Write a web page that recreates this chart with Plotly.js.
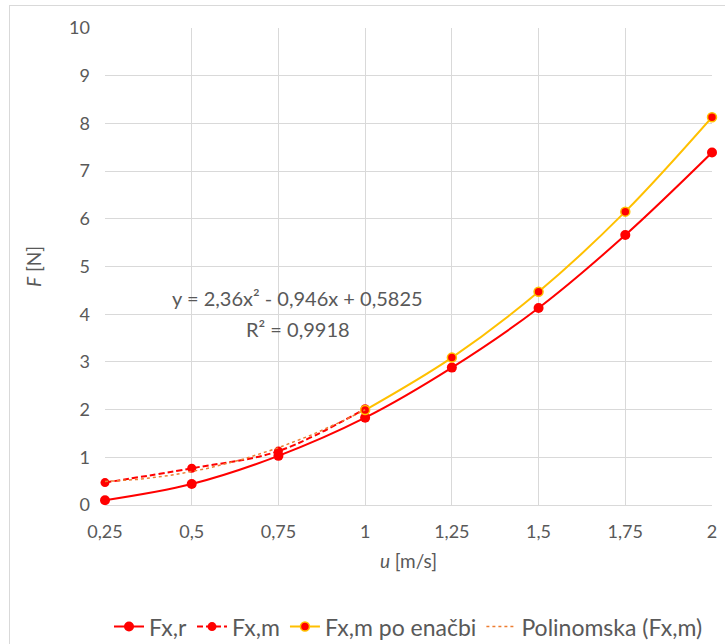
<!DOCTYPE html>
<html>
<head>
<meta charset="utf-8">
<script src="https://cdn.plot.ly/plotly-3.0.1.min.js"></script>
<style>
  html, body { margin: 0; padding: 0; background: #fff; overflow: hidden; }
  #chart { position: absolute; left: 0; top: 0; width: 725px; height: 644px; }
  #frame { position: absolute; left: 9px; top: 5px; width: 740px; height: 660px;
           border: 1px solid #d9d9d9; pointer-events: none; }
</style>
</head>
<body>
<div id="chart"></div>
<div id="frame"></div>
<script>
// Measured force F [N] against speed u [m/s]
const uAll = [0.25, 0.5, 0.75, 1, 1.25, 1.5, 1.75, 2];
const fxR = [0.1, 0.44, 1.03, 1.83, 2.88, 4.13, 5.66, 7.39];

const uLow = [0.25, 0.5, 0.75, 1];
const fxM = [0.47, 0.77, 1.13, 2.02];

const uHigh = [1, 1.25, 1.5, 1.75, 2];
const fxMEq = [1.99, 3.09, 4.47, 6.15, 8.13];

// Quadratic trendline of Fx,m: a*x^2 + b*x + c
const trendCoef = [2.36, -0.946, 0.5825];
const trendR2 = '0,9918';

const xTickVals = [0.25, 0.5, 0.75, 1, 1.25, 1.5, 1.75, 2];
const xTickText = ['0,25', '0,5', '0,75', '1', '1,25', '1,5', '1,75', '2'];

const trendX = [];
for (let i = 0; i <= 60; i++) trendX.push(uLow[0] + (uLow[uLow.length - 1] - uLow[0]) * i / 60);
const trendY = trendX.map(x => trendCoef[0] * x * x + trendCoef[1] * x + trendCoef[2]);

const fmt = v => String(Math.abs(v)).replace('.', ',');
const eqLine = 'y = ' + fmt(trendCoef[0]) + 'x² ' + (trendCoef[1] < 0 ? '- ' : '+ ') +
  fmt(trendCoef[1]) + 'x ' + (trendCoef[2] < 0 ? '- ' : '+ ') + fmt(trendCoef[2]);
const r2Line = 'R² = ' + trendR2;

const RED = '#ff0000';
const GOLD = '#ffc000';
const FONT = 'Lato, "Open Sans", sans-serif';
const GREY = '#595959';

const traces = [
  { x: uAll, y: fxR, name: 'Fx,r', type: 'scatter', mode: 'lines+markers',
    line: { color: RED, width: 2, shape: 'spline' },
    marker: { color: RED, size: 10 }, cliponaxis: false },
  { x: uLow, y: fxM, name: 'Fx,m', type: 'scatter', mode: 'lines+markers',
    line: { color: RED, width: 2, shape: 'spline', dash: '6px,3px' },
    marker: { color: RED, size: 9 }, cliponaxis: false },
  { x: uHigh, y: fxMEq, name: 'Fx,m po enačbi', type: 'scatter', mode: 'lines+markers',
    line: { color: GOLD, width: 2, shape: 'spline' },
    marker: { color: RED, size: 9, line: { color: GOLD, width: 1.5 } }, cliponaxis: false },
  { x: trendX, y: trendY, name: 'Polinomska (Fx,m)', type: 'scatter', mode: 'lines',
    line: { color: '#ed7d31', width: 1.5, dash: 'dot' } }
];

const layout = {
  width: 725, height: 644,
  margin: { l: 105, r: 13, t: 28, b: 139, autoexpand: false },
  paper_bgcolor: '#ffffff', plot_bgcolor: '#ffffff',
  font: { family: FONT, size: 18, color: GREY },
  showlegend: true,
  legend: { orientation: 'h', x: 0.5, xanchor: 'center', y: -0.255, yanchor: 'middle',
            font: { family: FONT, size: 23, color: GREY }, traceorder: 'normal',
            itemwidth: 30 },
  xaxis: {
    range: [0.25, 2], tickvals: xTickVals, ticktext: xTickText,
    showgrid: true, gridcolor: '#d9d9d9', gridwidth: 1,
    zeroline: false, showline: true, linecolor: '#d9d9d9', linewidth: 1,
    ticks: '', ticklabelstandoff: 10,
    tickfont: { family: FONT, size: 18, color: GREY },
    title: { text: '<i>u</i> [m/s]', font: { family: FONT, size: 19, color: GREY }, standoff: 14 }
  },
  yaxis: {
    range: [0, 10], dtick: 1, tick0: 0,
    showgrid: true, gridcolor: '#d9d9d9', gridwidth: 1,
    zeroline: false, showline: false,
    ticks: '', ticklabelstandoff: 14,
    tickfont: { family: FONT, size: 18, color: GREY },
    title: { text: '<i>F</i> [N]', font: { family: FONT, size: 19, color: GREY }, standoff: 22 }
  },
  annotations: [
    { x: 0.806, y: 4.34, xref: 'x', yref: 'y', text: eqLine, showarrow: false,
      xanchor: 'center', yanchor: 'middle', font: { family: FONT, size: 20, color: GREY } },
    { x: 0.806, y: 3.69, xref: 'x', yref: 'y', text: r2Line, showarrow: false,
      xanchor: 'center', yanchor: 'middle', font: { family: FONT, size: 20, color: GREY } }
  ]
};

Plotly.newPlot('chart', traces, layout, { displayModeBar: false, staticPlot: true });
</script>
</body>
</html>
